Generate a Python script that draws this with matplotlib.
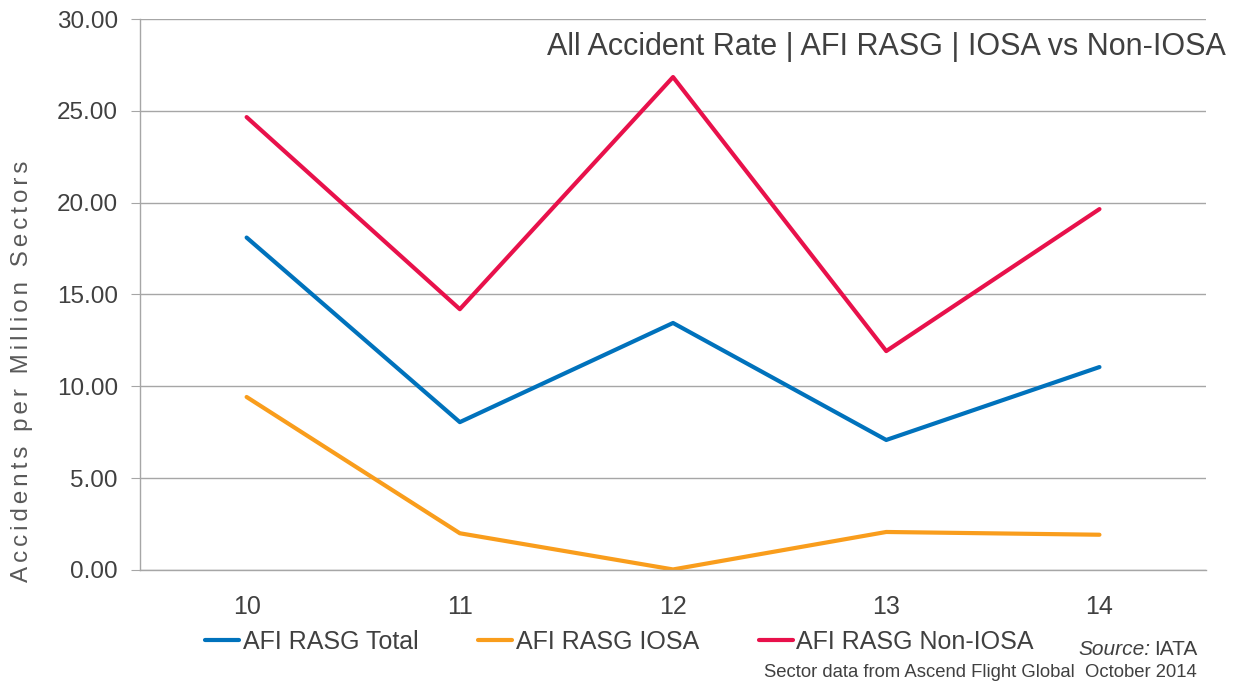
import matplotlib.pyplot as plt

years = ["10", "11", "12", "13", "14"]
total = [18.10, 8.05, 13.45, 7.08, 11.05]
iosa = [9.42, 2.00, 0.03, 2.07, 1.92]
non_iosa = [24.66, 14.20, 26.84, 11.92, 19.65]
labels = ["AFI RASG Total", "AFI RASG IOSA", "AFI RASG Non-IOSA"]
colors = ["#0072BC", "#F99D1C", "#E8114B"]

plt.rcParams['font.family'] = ['Liberation Sans', 'DejaVu Sans']
txt = '#404040'

fig = plt.figure(figsize=(12.38, 6.86), dpi=100)
ax = fig.add_axes([0.1131, 0.1691, 0.8611, 0.8032])

x = range(len(years))
for vals, lab, col in zip([total, iosa, non_iosa], labels, colors):
    ax.plot(x, vals, color=col, lw=3.0, label=lab, solid_capstyle='round')

ax.set_xlim(-0.5, len(years) - 0.5)
ax.set_ylim(0, 30)
yt = [0, 5, 10, 15, 20, 25, 30]
ax.set_yticks(yt)
ax.set_yticklabels(["%.2f" % v for v in yt])
ax.set_xticks(list(x))
ax.set_xticklabels(years)
ax.grid(axis='y', color='#a6a6a6', lw=1)
ax.set_axisbelow(True)
for s in ['top', 'right']:
    ax.spines[s].set_visible(False)
for s in ['left', 'bottom']:
    ax.spines[s].set_color('#a6a6a6')
    ax.spines[s].set_linewidth(1)
ax.tick_params(axis='y', length=6.5, color='#a6a6a6', labelsize=17.5, labelcolor=txt, pad=9.5)
ax.tick_params(axis='x', length=0, labelsize=18, labelcolor=txt, pad=18)

# spaced-out axis title
ylab = "\u200a\u200a".join("Accidents per Million Sectors")
fig.text(0.0178, 0.4585, ylab, rotation=90, ha='center', va='center', fontsize=17.4, color='#595959')

fig.text(0.990, 0.931, "All Accident Rate | AFI RASG | IOSA vs Non-IOSA", ha='right', va='center',
         fontsize=22, color=txt)

leg = fig.legend(loc='center left', bbox_to_anchor=(0.1656, 0.0641), ncol=3, frameon=False,
                 borderpad=0, borderaxespad=0,
                 handlelength=1.35, handletextpad=0.15, columnspacing=2.4,
                 prop={'size': 18})
for t in leg.get_texts():
    t.set_color(txt)

r = fig.canvas.get_renderer()
t1 = fig.text(0.967, 0.0525, "IATA", ha='right', va='center', fontsize=15, color=txt)
w = t1.get_window_extent(r).width / fig.bbox.width
fig.text(0.967 - w - 0.003, 0.0525, "Source:", ha='right', va='center', fontsize=15, color=txt,
         style='italic')
fig.text(0.967, 0.019, "Sector data from Ascend Flight Global  October 2014", ha='right', va='center',
         fontsize=13.3, color=txt)

fig.savefig("out.png", dpi=100)
